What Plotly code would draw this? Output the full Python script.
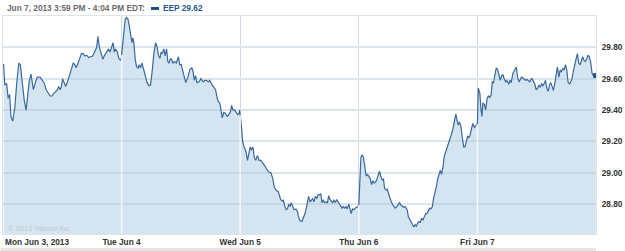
import plotly.graph_objects as go

# ---------------- data ----------------
day_labels = ["Mon Jun 3, 2013", "Tue Jun 4", "Wed Jun 5", "Thu Jun 6", "Fri Jun 7"]
session_minutes = 390  # 9:30 -> 16:00

mon_min = [2, 6, 12, 17, 22, 26, 32, 39, 46, 52, 57, 63, 70, 76, 81, 86, 92, 96, 100, 107,
           113, 122, 129, 135, 142, 148, 155, 161, 168, 175, 179, 183, 188, 192, 196, 201, 206, 212, 218, 225,
           231, 236, 240, 245, 251, 258, 264, 269, 275, 282, 288, 295, 301, 308, 312, 317, 323, 328, 334,
           341, 347, 352, 357, 362, 366, 370, 376, 381, 388]
mon_px = [29.694, 29.56, 29.57, 29.475, 29.50, 29.36, 29.33, 29.42, 29.59, 29.70, 29.69, 29.57, 29.46, 29.40,
          29.51, 29.58, 29.63, 29.57, 29.53, 29.58, 29.61, 29.61, 29.59, 29.575, 29.53, 29.51, 29.49, 29.49,
          29.51, 29.52, 29.53, 29.55, 29.53, 29.55, 29.60, 29.575, 29.55, 29.58, 29.62, 29.66, 29.70, 29.69,
          29.67, 29.69, 29.73, 29.76, 29.76, 29.745, 29.75, 29.735, 29.74, 29.745, 29.77, 29.80, 29.87, 29.80,
          29.76, 29.725, 29.75, 29.77, 29.79, 29.77, 29.80, 29.83, 29.77, 29.79, 29.77, 29.73, 29.715]

tue_min = [4, 8, 12, 16, 21, 25, 30, 34, 37, 40, 45, 49, 54, 58, 62, 67, 71, 75, 80, 84,
           90, 95, 101, 106, 112, 117, 121, 126, 130, 134, 139, 143, 148, 152, 156, 161, 165, 169, 174, 180,
           187, 191, 196, 200, 204, 211, 218, 224, 231, 235, 239, 243, 248, 255, 261, 268, 274, 279, 285, 290,
           296, 303, 309, 314, 318, 323, 327, 331, 336, 341, 347, 352, 358, 362, 366, 372, 377, 382, 386, 388]
tue_px = [29.825, 29.93, 29.98, 29.99, 29.98, 29.94, 29.88, 29.83, 29.86, 29.835,
          29.72, 29.68, 29.665, 29.69, 29.67, 29.70, 29.67, 29.635, 29.59, 29.575,
          29.555, 29.56, 29.655, 29.76, 29.83, 29.80, 29.75, 29.73, 29.77, 29.76,
          29.79, 29.745, 29.79, 29.71, 29.70, 29.73, 29.72, 29.70, 29.71, 29.70,
          29.74, 29.69, 29.69, 29.655, 29.63, 29.575, 29.61, 29.655, 29.67, 29.645,
          29.59, 29.62, 29.575, 29.58, 29.60, 29.58, 29.59, 29.59, 29.58, 29.59,
          29.565, 29.545, 29.53, 29.48, 29.455, 29.445, 29.38, 29.35, 29.385, 29.38,
          29.36, 29.37, 29.39, 29.43, 29.40, 29.40, 29.385, 29.37, 29.38, 29.40]

wed_min = [4, 8, 13, 19, 24, 29, 33, 37, 42, 46, 51, 57, 62, 68, 74, 81, 88, 94, 101, 107,
           112, 118, 125, 129, 133, 138, 142, 147, 151, 155, 160, 164, 168, 173, 177, 183, 188, 193, 197, 203,
           208, 214, 221, 225, 230, 234, 238, 243, 247, 252, 256, 260, 265, 269, 273, 278, 282, 287, 291, 295,
           300, 304, 308, 313, 317, 322, 326, 330, 335, 339, 343, 348, 352, 357, 361, 365, 369, 374, 378, 383,
           387, 390]
wed_px = [29.30, 29.20, 29.165, 29.135, 29.08, 29.135, 29.165, 29.145, 29.165, 29.10,
          29.08, 29.11, 29.08, 29.08, 29.065, 29.045, 29.02, 29.005, 29.00, 28.965,
          28.91, 28.89, 28.88, 28.86, 28.83, 28.82, 28.825, 28.785, 28.765, 28.77,
          28.80, 28.785, 28.81, 28.785, 28.765, 28.77, 28.755, 28.71, 28.695, 28.69,
          28.72, 28.745, 28.81, 28.85, 28.815, 28.83, 28.835, 28.815, 28.85, 28.835,
          28.86, 28.86, 28.865, 28.81, 28.825, 28.81, 28.815, 28.81, 28.855, 28.83,
          28.815, 28.81, 28.825, 28.81, 28.83, 28.815, 28.795, 28.79, 28.775, 28.785,
          28.775, 28.785, 28.77, 28.80, 28.765, 28.74, 28.77, 28.765, 28.775, 28.78,
          28.785, 28.795]

thu_min = [3, 7, 11, 15, 20, 24, 29, 33, 37, 42, 46, 50, 55, 59, 64, 68, 72, 77, 81, 85,
           90, 94, 99, 103, 107, 112, 116, 120, 125, 129, 134, 138, 142, 148, 152, 159, 163, 167, 172, 176,
           181, 185, 189, 194, 198, 202, 207, 211, 216, 220, 224, 229, 233, 237, 242, 246, 251, 255, 259, 264,
           268, 272, 277, 281, 286, 290, 294, 299, 303, 307, 312, 316, 319, 323, 327, 331, 336, 340, 345, 349,
           353, 358, 362, 366, 371, 375, 380, 384, 388, 390]
thu_px = [28.99, 29.10, 29.115, 29.10, 29.04, 28.98, 28.99, 28.98, 28.965, 28.925,
          28.95, 28.935, 28.94, 28.955, 28.995, 29.01, 28.98, 28.955, 28.96, 28.90,
          28.89, 28.895, 28.86, 28.83, 28.815, 28.795, 28.785, 28.775, 28.785, 28.80,
          28.81, 28.795, 28.79, 28.78, 28.785, 28.765, 28.72, 28.705, 28.695, 28.68,
          28.655, 28.67, 28.66, 28.68, 28.69, 28.685, 28.71, 28.70, 28.725, 28.74,
          28.74, 28.765, 28.775, 28.77, 28.785, 28.84, 28.875, 28.91, 28.96, 29.00,
          29.015, 28.99, 29.04, 29.105, 29.135, 29.155, 29.19, 29.22, 29.24, 29.26,
          29.305, 29.35, 29.375, 29.335, 29.305, 29.325, 29.295, 29.23, 29.165, 29.165,
          29.20, 29.235, 29.225, 29.24, 29.285, 29.315, 29.29, 29.30, 29.305, 29.31]

fri_min = [3, 8, 12, 15, 18, 23, 27, 32, 36, 40, 45, 49, 53, 58, 62, 67, 71, 75, 80, 84,
           88, 93, 97, 103, 107, 111, 117, 122, 128, 132, 137, 141, 145, 150, 154, 158, 163, 167, 172, 176,
           180, 185, 189, 193, 198, 202, 207, 211, 215, 220, 224, 228, 233, 237, 241, 246, 250, 255, 259, 263,
           268, 272, 276, 281, 285, 290, 294, 298, 303, 307, 311, 316, 320, 325, 329, 333, 338, 342, 346, 351,
           355, 360, 364, 368, 373, 377, 381, 386, 389]
fri_px = [29.54, 29.51, 29.40, 29.36, 29.445, 29.435, 29.40, 29.475, 29.49, 29.48,
          29.495, 29.58, 29.575, 29.635, 29.67, 29.655, 29.615, 29.59, 29.62, 29.625,
          29.60, 29.58, 29.59, 29.565, 29.59, 29.575, 29.635, 29.655, 29.675, 29.61,
          29.58, 29.595, 29.61, 29.605, 29.60, 29.59, 29.595, 29.59, 29.58, 29.595,
          29.60, 29.58, 29.565, 29.53, 29.54, 29.56, 29.545, 29.57, 29.555, 29.57,
          29.59, 29.54, 29.52, 29.56, 29.575, 29.55, 29.525, 29.575, 29.64, 29.675,
          29.61, 29.655, 29.645, 29.665, 29.655, 29.69, 29.655, 29.58, 29.565, 29.59,
          29.60, 29.655, 29.70, 29.73, 29.76, 29.70, 29.69, 29.725, 29.74, 29.715,
          29.71, 29.73, 29.75, 29.74, 29.70, 29.635, 29.62, 29.615, 29.62]

y_ticks = [28.80, 29.00, 29.20, 29.40, 29.60, 29.80]
y_range = [28.61, 30.0]
header_text = "Jun 7, 2013 3:59 PM - 4:04 PM EDT:"
legend_text = "EEP 29.62"
copyright_text = "© 2013 Yahoo! Inc."

day_minutes = [mon_min, tue_min, wed_min, thu_min, fri_min]
day_prices = [mon_px, tue_px, wed_px, thu_px, fri_px]

x, y = [], []
for d, (mins, prices) in enumerate(zip(day_minutes, day_prices)):
    for m, p in zip(mins, prices):
        x.append(d + m / session_minutes)
        y.append(p)

# ---------------- styling ----------------
FONT = "Liberation Sans, Arial, sans-serif"
LINE_COLOR = "#3a6a9c"
FILL_COLOR = "rgba(170,202,228,0.5)"

fig = go.Figure()
fig.add_trace(go.Scatter(x=x, y=y, mode="lines", fill="tozeroy", fillcolor=FILL_COLOR,
                         line=dict(color=LINE_COLOR, width=1.2), hoverinfo="skip", showlegend=False))
fig.add_trace(go.Scatter(x=[x[-1]], y=[y[-1]], mode="markers",
                         marker=dict(symbol="square", size=5, color="#24558a"),
                         hoverinfo="skip", showlegend=False))

shapes = []
# light vertical grid over the filled area at each day boundary
for d in range(1, len(day_minutes)):
    x0, v0 = (d - 1) + day_minutes[d - 1][-1] / session_minutes, day_prices[d - 1][-1]
    x1, v1 = d + day_minutes[d][0] / session_minutes, day_prices[d][0]
    vb = v0 + (d - x0) / (x1 - x0) * (v1 - v0)
    shapes.append(dict(type="line", xref="x", yref="y", x0=d, x1=d, y0=y_range[0], y1=vb,
                       line=dict(color="rgba(255,255,255,0.85)", width=1.5), layer="above"))
# legend swatch
shapes.append(dict(type="rect", xref="paper", yref="paper", xsizemode="pixel", ysizemode="pixel",
                   xanchor=0, yanchor=1, x0=148, x1=156, y0=6, y1=9,
                   fillcolor="#1f4f80", line=dict(width=0)))
# bottom grey band
shapes.append(dict(type="rect", xref="paper", yref="paper", ysizemode="pixel", yanchor=0,
                   x0=-0.004, x1=1.0, y0=-17, y1=-14, fillcolor="#e6e6e6", line=dict(width=0),
                   layer="below"))

annotations = [
    dict(text=header_text, xref="paper", yref="paper", x=0, y=1, xanchor="left", yanchor="middle",
         xshift=2, yshift=8, showarrow=False, font=dict(family=FONT, size=8.3, color="#6b6b6b", weight="bold")),
    dict(text=legend_text, xref="paper", yref="paper", x=0, y=1, xanchor="left", yanchor="middle",
         xshift=158, yshift=8, showarrow=False, font=dict(family=FONT, size=8.3, color="#1f5a96", weight="bold")),
    dict(text=day_labels[0], xref="x", yref="paper", x=0, y=0, xanchor="left", yanchor="middle",
         xshift=0, yshift=-8, showarrow=False, font=dict(family=FONT, size=8.3, color="#333333", weight="bold")),
    dict(text=copyright_text, xref="paper", yref="paper", x=0, y=0, xanchor="left", yanchor="middle",
         xshift=3, yshift=6, showarrow=False, font=dict(family=FONT, size=7.5, color="#c3cad2")),
]

fig.update_layout(
    width=625, height=251,
    margin=dict(l=2, r=28, t=16, b=17, pad=0),
    paper_bgcolor="white", plot_bgcolor="white",
    shapes=shapes, annotations=annotations,
    xaxis=dict(range=[0, 5], tickvals=[1, 2, 3, 4], ticktext=day_labels[1:], showgrid=True,
               gridcolor="#d0dbe5", gridwidth=1, zeroline=False, showline=True, linecolor="#dfe4e9",
               linewidth=1, mirror=True, ticks="", ticklabelstandoff=0,
               tickfont=dict(family=FONT, size=8.3, color="#333333", weight="bold"), fixedrange=True),
    yaxis=dict(range=y_range, side="right", tickvals=y_ticks, ticktext=[f"{v:.2f}" for v in y_ticks],
               showgrid=True, gridcolor="#dde4ea", gridwidth=1.5, zeroline=False, showline=True,
               linecolor="#dfe4e9", linewidth=1, mirror=True, ticks="", ticklabelstandoff=3,
               tickfont=dict(family=FONT, size=8.3, color="#333333", weight="bold"), fixedrange=True),
)

fig.write_html("out.html")
